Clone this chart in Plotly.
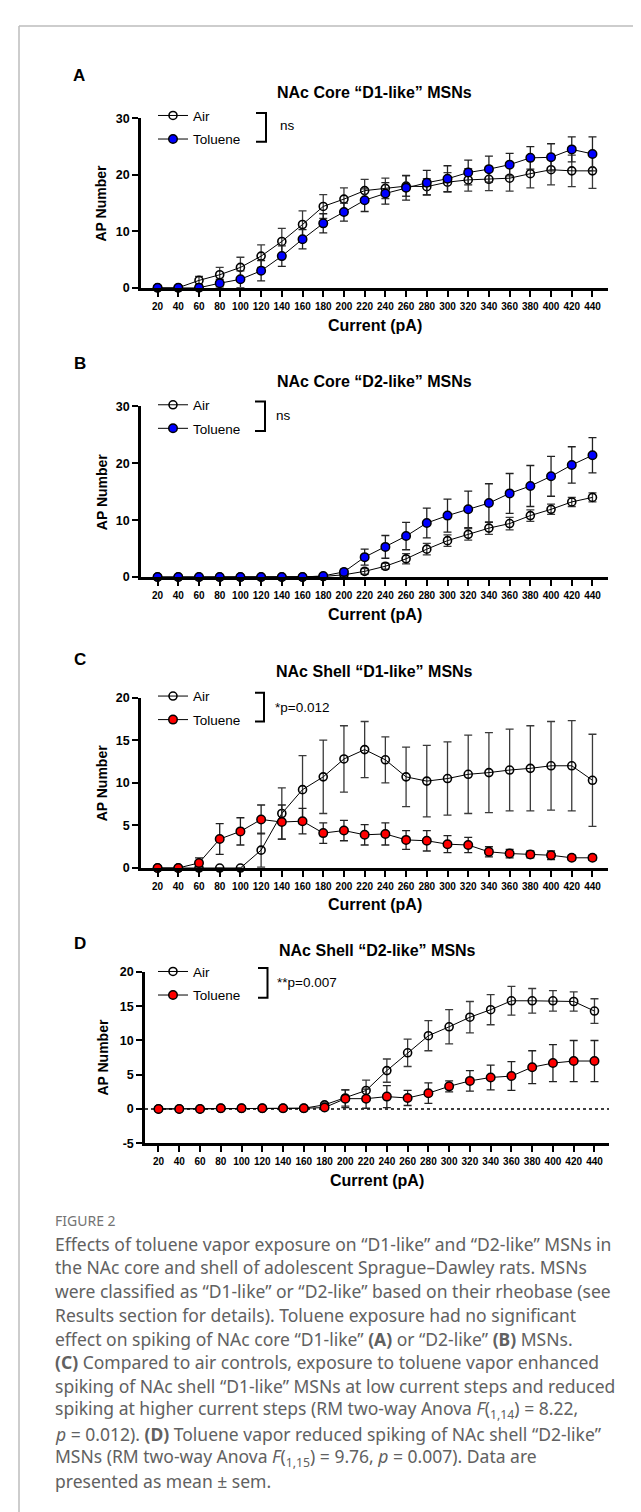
import plotly.graph_objects as go

# ---------------- data ----------------
currents = [20, 40, 60, 80, 100, 120, 140, 160, 180, 200, 220, 240, 260, 280, 300, 320, 340, 360, 380, 400, 420, 440]
tick_labels = [str(c) for c in currents]

A_air = [0, 0, 1.3, 2.3, 3.6, 5.6, 8.2, 11.2, 14.4, 15.7, 17.2, 17.6, 18.0, 17.9, 18.7, 19.1, 19.2, 19.4, 20.2, 20.9, 20.7, 20.7]
A_air_err = [0, 0, 0.7, 1.3, 1.8, 2.0, 2.3, 2.4, 2.1, 2.0, 2.0, 1.8, 1.8, 1.4, 1.7, 2.0, 2.0, 2.3, 2.5, 2.7, 2.8, 3.1]
A_tol = [0, 0, 0, 0.8, 1.5, 3.0, 5.6, 8.6, 11.4, 13.4, 15.5, 16.7, 17.7, 18.6, 19.3, 20.4, 21.0, 21.8, 23.0, 23.1, 24.5, 23.7]
A_tol_err = [0, 0, 0, 0.7, 1.5, 1.8, 1.8, 1.7, 1.7, 1.6, 2.0, 1.9, 2.2, 2.2, 2.3, 2.2, 2.3, 2.0, 2.0, 2.4, 2.2, 3.0]

B_air = [0, 0, 0, 0, 0, 0, 0, 0, 0.1, 0.4, 1.0, 1.9, 3.2, 4.9, 6.4, 7.5, 8.6, 9.4, 10.8, 11.9, 13.2, 14.0]
B_air_err = [0, 0, 0, 0, 0, 0, 0, 0, 0.1, 0.3, 0.5, 0.5, 0.9, 1.0, 1.0, 1.0, 1.1, 1.1, 1.0, 0.9, 0.8, 0.8]
B_tol = [0, 0, 0, 0, 0, 0, 0, 0, 0.2, 0.9, 3.5, 5.3, 7.2, 9.5, 10.8, 11.9, 13.0, 14.7, 16.0, 17.7, 19.7, 21.4]
B_tol_err = [0, 0, 0, 0, 0, 0, 0, 0, 0.2, 0.5, 1.4, 2.0, 2.4, 2.6, 2.9, 3.2, 3.4, 3.5, 3.6, 3.5, 3.2, 3.1]

C_air = [0, 0, 0, 0, 0, 2.1, 6.4, 9.2, 10.7, 12.8, 13.9, 12.7, 10.7, 10.2, 10.5, 11.0, 11.2, 11.5, 11.7, 12.0, 12.0, 10.3]
C_air_err = [0, 0, 0, 0, 0, 2.0, 3.0, 4.0, 4.3, 3.9, 3.3, 2.7, 3.5, 4.2, 4.3, 4.6, 4.7, 4.8, 5.0, 5.2, 5.3, 5.4]
C_tol = [0, 0, 0.6, 3.4, 4.3, 5.7, 5.4, 5.5, 4.1, 4.4, 3.9, 4.0, 3.3, 3.2, 2.8, 2.7, 1.9, 1.7, 1.6, 1.5, 1.2, 1.2]
C_tol_err = [0, 0, 0.6, 1.8, 1.6, 1.7, 2.0, 1.5, 1.2, 1.2, 1.2, 1.3, 1.1, 1.2, 1.0, 0.9, 0.6, 0.5, 0.4, 0.5, 0.3, 0.3]

D_air = [0, 0, 0, 0.1, 0.1, 0.1, 0.1, 0.1, 0.6, 1.6, 2.7, 5.6, 8.2, 10.7, 12.0, 13.4, 14.5, 15.8, 15.8, 15.8, 15.7, 14.3]
D_air_err = [0, 0, 0, 0.1, 0.1, 0.1, 0.1, 0.1, 0.3, 1.2, 1.5, 1.7, 2.0, 2.2, 2.5, 2.3, 2.2, 2.1, 1.8, 1.5, 1.4, 1.8]
D_tol = [0, 0, 0, 0.1, 0.1, 0.1, 0.1, 0.1, 0.2, 1.5, 1.5, 1.8, 1.6, 2.3, 3.3, 4.1, 4.6, 4.8, 6.1, 6.7, 7.0, 7.0]
D_tol_err = [0, 0, 0, 0.1, 0.1, 0.1, 0.1, 0.1, 0.2, 1.3, 1.4, 1.6, 1.1, 1.5, 0.8, 1.5, 1.8, 2.1, 2.4, 2.7, 3.0, 3.0]

y_ticks_core = [0, 10, 20, 30]
y_ticks_shell_d1 = [0, 5, 10, 15, 20]
y_ticks_shell_d2 = [-5, 0, 5, 10, 15, 20]

panel_letters = ["A", "B", "C", "D"]
panel_titles = ["NAc Core “D1-like” MSNs", "NAc Core “D2-like” MSNs",
                "NAc Shell “D1-like” MSNs", "NAc Shell “D2-like” MSNs"]
stat_texts = ["ns", "ns", "*p=0.012", "**p=0.007"]
series_names = ["Air", "Toluene"]
x_title = "Current (pA)"
y_title = "AP Number"

caption_head = "FIGURE 2"
caption_lines = [
    "Effects of toluene vapor exposure on “D1-like” and “D2-like” MSNs in",
    "the NAc core and shell of adolescent Sprague–Dawley rats. MSNs",
    "were classified as “D1-like” or “D2-like” based on their rheobase (see",
    "Results section for details). Toluene exposure had no significant",
    "effect on spiking of NAc core “D1-like” <b>(A)</b> or “D2-like” <b>(B)</b> MSNs.",
    "<b>(C)</b> Compared to air controls, exposure to toluene vapor enhanced",
    "spiking of NAc shell “D1-like” MSNs at low current steps and reduced",
    "spiking at higher current steps (RM two-way Anova <i>F</i>(<sub>1,14</sub>) = 8.22,",
    "<i>p</i> = 0.012). <b>(D)</b> Toluene vapor reduced spiking of NAc shell “D2-like”",
    "MSNs (RM two-way Anova <i>F</i>(<sub>1,15</sub>) = 9.76, <i>p</i> = 0.007). Data are",
    "presented as mean ± sem.",
]

# ---------------- layout config (pixels) ----------------
W, H = 641, 1512
FONT = "Liberation Sans, Arial, sans-serif"
NARROW = "Liberation Sans Narrow, Arial Narrow, Liberation Sans, sans-serif"

panels = [
    dict(air=A_air, air_err=A_air_err, tol=A_tol, tol_err=A_tol_err, color="#0000ff",
         yr=[0, 30], yt=y_ticks_core, xpx=[133, 600], ypx=[104.3, 275.3], xr=[4, 455],
         letter=(63, 61), title_y=78, leg=(102, 126), brk=(248, 258, 99, 128),
         stat=(270, 112), xt_y=313, zero=False, yt_x=93.5),
    dict(air=B_air, air_err=B_air_err, tol=B_tol, tol_err=B_tol_err, color="#0000ff",
         yr=[0, 30], yt=y_ticks_core, xpx=[133, 600], ypx=[395, 567.3], xr=[4, 455],
         letter=(64, 352), title_y=370, leg=(394, 417.5), brk=(247, 257, 390, 420),
         stat=(266, 404), xt_y=605, zero=False, yt_x=93.5),
    dict(air=C_air, air_err=C_air_err, tol=C_tol, tol_err=C_tol_err, color="#ff0000",
         yr=[0, 20], yt=y_ticks_shell_d1, xpx=[133, 600], ypx=[689, 861], xr=[4, 455],
         letter=(64, 651), title_y=662.5, leg=(688, 711.5), brk=(247, 256, 684, 713),
         stat=(265, 699), xt_y=898, zero=False, yt_x=93.5),
    dict(air=D_air, air_err=D_air_err, tol=D_tol, tol_err=D_tol_err, color="#ff0000",
         yr=[-5, 20], yt=y_ticks_shell_d2, xpx=[137, 601], ypx=[966, 1138.7], xr=[7, 454],
         letter=(64, 937), title_y=944, leg=(966, 989.5), brk=(250, 259.5, 962, 992),
         stat=(267, 977), xt_y=1176, zero=True, yt_x=95),
]

def fx(px):
    return px / W

def fy(py):
    return 1 - py / H

fig = go.Figure()
annotations = []
shapes = []
layout_axes = {}

for i, p in enumerate(panels):
    n = i + 1
    xa = "x" if n == 1 else f"x{n}"
    ya = "y" if n == 1 else f"y{n}"
    leg = "legend" if n == 1 else f"legend{n}"

    fig.add_trace(go.Scatter(
        x=currents, y=p["air"], name=series_names[0], mode="lines+markers",
        xaxis=xa, yaxis=ya, legend=leg, legendgroup=f"air{n}",
        line=dict(color="black", width=1),
        marker=dict(symbol="circle", size=8, color="rgba(255,255,255,0)",
                    line=dict(color="black", width=1.6)),
        error_y=dict(type="data", array=p["air_err"], color="#3a3a3a", thickness=1.3, width=4),
        cliponaxis=False,
    ))
    fig.add_trace(go.Scatter(
        x=currents, y=p["tol"], name=series_names[1], mode="lines+markers",
        xaxis=xa, yaxis=ya, legend=leg, legendgroup=f"tol{n}",
        line=dict(color="black", width=1),
        marker=dict(symbol="circle", size=8.5, color=p["color"],
                    line=dict(color="black", width=1.5)),
        error_y=dict(type="data", array=p["tol_err"], color="#222222", thickness=1.3, width=4),
        cliponaxis=False,
    ))

    xkey = "xaxis" if n == 1 else f"xaxis{n}"
    ykey = "yaxis" if n == 1 else f"yaxis{n}"
    layout_axes[xkey] = dict(
        domain=[fx(p["xpx"][0]), fx(p["xpx"][1])], anchor=ya, range=p["xr"],
        tickmode="array", tickvals=currents, ticktext=tick_labels,
        ticks="outside", ticklen=6, tickwidth=2, tickcolor="black",
        showline=True, linewidth=2.5, linecolor="black",
        showgrid=False, zeroline=False, ticklabelstandoff=1,
        tickfont=dict(family=NARROW, size=10, color="black", weight="bold"),
    )
    layout_axes[ykey] = dict(
        domain=[fy(p["ypx"][1]), fy(p["ypx"][0])], anchor=xa, range=p["yr"],
        tickmode="array", tickvals=p["yt"], ticktext=[str(v) for v in p["yt"]],
        ticks="outside", ticklen=6, tickwidth=2, tickcolor="black",
        showline=True, linewidth=2.5, linecolor="black",
        showgrid=False, zeroline=False,
        tickfont=dict(family=FONT, size=12.5, color="black", weight="bold"),
    )

    layout_axes[leg] = dict(
        x=fx(145), y=fy(p["leg"][0] - 16), xanchor="left", yanchor="top",
        bgcolor="rgba(0,0,0,0)", borderwidth=0, traceorder="grouped",
        tracegroupgap=3, font=dict(family=FONT, size=13.5, color="black"),
    )

    # panel letter
    annotations.append(dict(text=f"<b>{panel_letters[i]}</b>", x=fx(p["letter"][0]), y=fy(p["letter"][1]),
                            xref="paper", yref="paper", xanchor="left", yanchor="middle", showarrow=False,
                            font=dict(family=FONT, size=17, color="black")))
    cx = (p["xpx"][0] + p["xpx"][1]) / 2
    annotations.append(dict(text=f"<b>{panel_titles[i]}</b>", x=fx(cx), y=fy(p["title_y"]),
                            xref="paper", yref="paper", xanchor="center", yanchor="middle", showarrow=False,
                            font=dict(family=FONT, size=16, color="black")))
    annotations.append(dict(text=f"<b>{x_title}</b>", x=fx(cx), y=fy(p["xt_y"]),
                            xref="paper", yref="paper", xanchor="center", yanchor="middle", showarrow=False,
                            font=dict(family=FONT, size=16, color="black")))
    cy = (p["ypx"][0] + p["ypx"][1]) / 2
    annotations.append(dict(text=f"<b>{y_title}</b>", x=fx(p["yt_x"]), y=fy(cy), textangle=-90,
                            xref="paper", yref="paper", xanchor="center", yanchor="middle", showarrow=False,
                            font=dict(family=FONT, size=14, color="black")))
    annotations.append(dict(text=stat_texts[i], x=fx(p["stat"][0]), y=fy(p["stat"][1]),
                            xref="paper", yref="paper", xanchor="left", yanchor="middle", showarrow=False,
                            font=dict(family=FONT, size=13.5, color="black")))
    bx0, bx1, by0, by1 = p["brk"]
    shapes.append(dict(type="path", xref="paper", yref="paper",
                       path=f"M {fx(bx0)},{fy(by0)} L {fx(bx1)},{fy(by0)} L {fx(bx1)},{fy(by1)} L {fx(bx0)},{fy(by1)}",
                       line=dict(color="black", width=2)))
    if p["zero"]:
        shapes.append(dict(type="line", xref=f"{xa} domain", yref=ya, x0=0, x1=1, y0=0, y1=0,
                           line=dict(color="black", width=1.5, dash="dot"), layer="below"))

# frame
shapes.append(dict(type="line", xref="paper", yref="paper", x0=fx(11), x1=1, y0=fy(11), y1=fy(11),
                   line=dict(color="#bdbdbd", width=1.5)))
shapes.append(dict(type="line", xref="paper", yref="paper", x0=fx(11), x1=fx(11), y0=fy(11), y1=0,
                   line=dict(color="#bdbdbd", width=1.5)))

# caption
CAP_FONT = "Noto Sans, Open Sans, sans-serif"
annotations.append(dict(text=caption_head, x=fx(45), y=fy(1217), xref="paper", yref="paper",
                        xanchor="left", yanchor="middle", showarrow=False,
                        font=dict(family=CAP_FONT, size=14, color="#737373")))
for k, line in enumerate(caption_lines):
    annotations.append(dict(text=line, x=fx(45), y=fy(1240 + 24 * k), xref="paper", yref="paper",
                            xanchor="left", yanchor="middle", showarrow=False,
                            font=dict(family=CAP_FONT, size=17.5, color="#616161")))

fig.update_layout(
    width=W, height=H, margin=dict(l=0, r=0, t=0, b=0),
    paper_bgcolor="white", plot_bgcolor="white",
    annotations=annotations, shapes=shapes, showlegend=True,
    **layout_axes,
)

fig.write_html("out.html")
